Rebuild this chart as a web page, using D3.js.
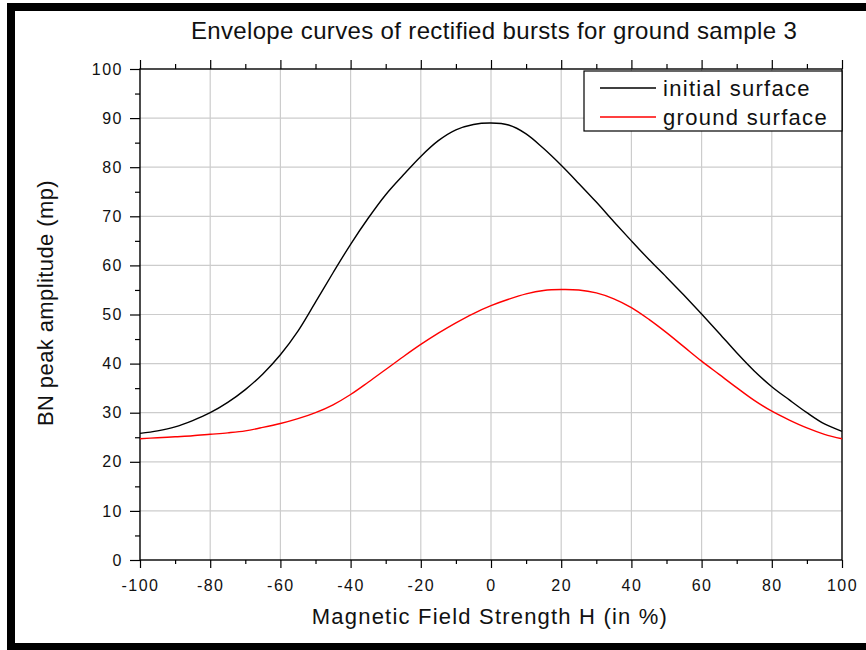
<!DOCTYPE html>
<html>
<head>
<meta charset="utf-8">
<script src="https://cdn.jsdelivr.net/npm/d3@7"></script>
<style>
  html, body { margin: 0; padding: 0; background: #fff; }
  svg { display: block; font-family: 'Liberation Sans', Arial, sans-serif; }
</style>
</head>
<body>
<div id="chart"></div>
<script>
// field strength H in %
const hValues = [-100, -95, -90, -85, -80, -75, -70, -65, -60, -55, -50, -45, -40, -35, -30, -25, -20, -15, -10, -5,
  0, 5, 10, 15, 20, 25, 30, 35, 40, 45, 50, 55, 60, 65, 70, 75, 80, 85, 90, 95, 100];

const initialSurface = [25.8, 26.3, 27.1, 28.4, 30.0, 32.1, 34.7, 37.9, 41.8, 46.6, 52.5, 58.5, 64.3, 69.6, 74.4, 78.4, 82.2, 85.4, 87.6, 88.7,
  89.0, 88.6, 86.8, 83.8, 80.4, 76.7, 72.9, 68.9, 65.0, 61.2, 57.6, 53.9, 50.1, 46.2, 42.2, 38.5, 35.3, 32.6, 30.0, 27.7, 26.2];

const groundSurface = [24.7, 24.9, 25.1, 25.3, 25.6, 25.9, 26.3, 27.0, 27.8, 28.8, 30.0, 31.6, 33.7, 36.2, 38.8, 41.4, 43.9, 46.2, 48.3, 50.2,
  51.8, 53.1, 54.2, 54.9, 55.1, 55.0, 54.4, 53.2, 51.4, 49.0, 46.3, 43.4, 40.5, 37.8, 35.1, 32.5, 30.3, 28.5, 26.9, 25.6, 24.7];

const xTicks = [-100, -80, -60, -40, -20, 0, 20, 40, 60, 80, 100];
const yTicks = [0, 10, 20, 30, 40, 50, 60, 70, 80, 90, 100];
const seriesNames = ['initial surface', 'ground surface'];
const seriesColors = ['#000000', '#ff0000'];

const width = 866;
const height = 650;
const plot = { left: 140, right: 842, top: 69, bottom: 560 };

const svg = d3.select('#chart').append('svg')
    .attr('width', width)
    .attr('height', height);

// frame around the picture
svg.append('rect')
    .attr('x', 7).attr('y', 3)
    .attr('width', 900).attr('height', 700)
    .attr('fill', '#000');
svg.append('rect')
    .attr('x', 15).attr('y', 11)
    .attr('width', 900).attr('height', 632)
    .attr('fill', '#fff');

const x = d3.scaleLinear([-100, 100], [plot.left, plot.right]);
const y = d3.scaleLinear([0, 100], [plot.bottom, plot.top]);

// grid
svg.append('g')
    .selectAll('line')
    .data(xTicks.slice(1, -1))
    .join('line')
      .attr('x1', d => x(d)).attr('x2', d => x(d))
      .attr('y1', plot.top).attr('y2', plot.bottom)
      .attr('stroke', '#cccccc').attr('stroke-width', 1.2);

svg.append('g')
    .selectAll('line')
    .data(yTicks.slice(1, -1))
    .join('line')
      .attr('y1', d => y(d)).attr('y2', d => y(d))
      .attr('x1', plot.left).attr('x2', plot.right)
      .attr('stroke', '#cccccc').attr('stroke-width', 1.2);

// axes
const minorX = d3.range(-90, 100, 20);
const minorY = d3.range(5, 100, 10);
const plainNumber = d => String(d);   // plain hyphen minus like the original

function styleAxis(g) {
  g.selectAll('.domain').remove();
  g.selectAll('line').attr('stroke', '#000').attr('stroke-width', 1.2);
  g.selectAll('text')
      .attr('fill', '#111')
      .style('font-size', '16px')
      .style('letter-spacing', '1.5px');
}

svg.append('g')
    .attr('transform', `translate(0, ${plot.bottom})`)
    .call(d3.axisBottom(x).tickValues(xTicks).tickSize(8).tickPadding(12).tickFormat(plainNumber))
    .call(styleAxis);

svg.append('g')
    .attr('transform', `translate(0, ${plot.bottom})`)
    .call(d3.axisBottom(x).tickValues(minorX).tickSize(4).tickFormat(''))
    .call(styleAxis);

svg.append('g')
    .attr('transform', `translate(${plot.left}, 0)`)
    .call(d3.axisLeft(y).tickValues(yTicks).tickSize(10).tickPadding(7).tickFormat(plainNumber))
    .call(styleAxis);

svg.append('g')
    .attr('transform', `translate(${plot.left}, 0)`)
    .call(d3.axisLeft(y).tickValues(minorY).tickSize(5).tickFormat(''))
    .call(styleAxis);

svg.append('g')
    .attr('transform', `translate(0, ${plot.top})`)
    .call(d3.axisTop(x).tickValues(xTicks).tickSize(9).tickFormat(''))
    .call(styleAxis);

svg.append('g')
    .attr('transform', `translate(0, ${plot.top})`)
    .call(d3.axisTop(x).tickValues(minorX).tickSize(5).tickFormat(''))
    .call(styleAxis);

// plot frame
svg.append('rect')
    .attr('x', plot.left).attr('y', plot.top)
    .attr('width', plot.right - plot.left)
    .attr('height', plot.bottom - plot.top)
    .attr('fill', 'none')
    .attr('stroke', '#000')
    .attr('stroke-width', 1.4);

// curves
const line = d3.line()
    .x((d, i) => x(hValues[i]))
    .y(d => y(d))
    .curve(d3.curveCatmullRom);

[initialSurface, groundSurface].forEach((values, i) => {
  svg.append('path')
      .datum(values)
      .attr('d', line)
      .attr('fill', 'none')
      .attr('stroke', seriesColors[i])
      .attr('stroke-width', 1.4);
});

// legend
const legend = svg.append('g');
legend.append('rect')
    .attr('x', 584).attr('y', 71)
    .attr('width', 258).attr('height', 60)
    .attr('fill', '#fff')
    .attr('stroke', '#000')
    .attr('stroke-width', 1.2);

seriesNames.forEach((name, i) => {
  const ly = 88 + i * 29;
  legend.append('line')
      .attr('x1', 600).attr('x2', 656)
      .attr('y1', ly).attr('y2', ly)
      .attr('stroke', seriesColors[i])
      .attr('stroke-width', 1.3);
  legend.append('text')
      .attr('x', 663).attr('y', ly + 7.5)
      .attr('fill', '#111')
      .style('font-size', '22px')
      .style('letter-spacing', '1.3px')
      .text(name);
});

// titles
svg.append('text')
    .attr('x', 494).attr('y', 39)
    .attr('text-anchor', 'middle')
    .attr('fill', '#111')
    .style('font-size', '24px')
    .style('letter-spacing', '0.35px')
    .text('Envelope curves of rectified bursts for ground sample 3');

svg.append('text')
    .attr('x', 490).attr('y', 624)
    .attr('text-anchor', 'middle')
    .attr('fill', '#111')
    .style('font-size', '22px')
    .style('letter-spacing', '1.2px')
    .text('Magnetic Field Strength H (in %)');

svg.append('text')
    .attr('transform', 'translate(53, 303) rotate(-90)')
    .attr('text-anchor', 'middle')
    .attr('fill', '#111')
    .style('font-size', '22px')
    .style('letter-spacing', '0.4px')
    .text('BN peak amplitude (mp)');
</script>
</body>
</html>
